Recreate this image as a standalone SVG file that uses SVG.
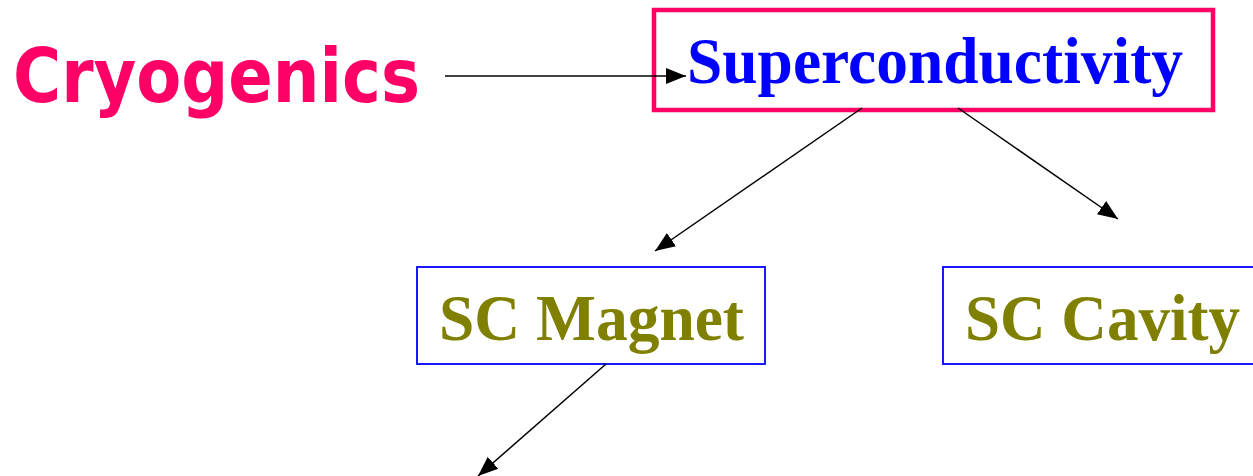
<svg xmlns="http://www.w3.org/2000/svg" width="1253" height="476" viewBox="0 0 1253 476">
<style>
.conn{stroke:#000;stroke-width:1.5;fill:none;marker-end:url(#ah)}
.box{fill:#fff;stroke:#0000ff;stroke-width:1.8}
.lbl{font-family:"Liberation Serif","Times New Roman",serif;font-weight:bold;fill:#808000}
</style>
<defs>
<marker id="ah" markerUnits="userSpaceOnUse" markerWidth="22" markerHeight="18" viewBox="0 0 22 18" refX="20" refY="9" orient="auto">
<path d="M0,1 L20,9 L0,17 Z" fill="#000"/>
</marker>
</defs>
<rect width="1253" height="476" fill="#fff"/>
<g id="cryogenics">
<text x="13" y="102" font-family="'DejaVu Sans',Verdana,sans-serif" font-weight="bold" font-size="75" fill="#ff0066" textLength="407" lengthAdjust="spacingAndGlyphs">Cryogenics</text>
</g>
<g id="superconductivity">
<rect x="654" y="10" width="559" height="100" fill="none" stroke="#ff0066" stroke-width="4.5"/>
<text x="687" y="83" font-family="'Liberation Serif','Times New Roman',serif" font-weight="bold" font-size="65" fill="#0000ff" textLength="496" lengthAdjust="spacingAndGlyphs">Superconductivity</text>
</g>
<g id="sc-magnet">
<rect class="box" x="417" y="267" width="348" height="97"/>
<text class="lbl" x="439" y="340" font-size="66" textLength="305" lengthAdjust="spacingAndGlyphs">SC Magnet</text>
</g>
<g id="sc-cavity">
<rect class="box" x="943" y="267" width="320" height="97"/>
<text class="lbl" x="965" y="340" font-size="66" textLength="275" lengthAdjust="spacingAndGlyphs">SC Cavity</text>
</g>
<g id="connectors">
<line class="conn" x1="445" y1="76" x2="686" y2="76"/>
<line class="conn" x1="862" y1="108" x2="655" y2="251"/>
<line class="conn" x1="958" y1="108" x2="1118" y2="219"/>
<line class="conn" x1="606" y1="364" x2="478" y2="476"/>
</g>
</svg>
